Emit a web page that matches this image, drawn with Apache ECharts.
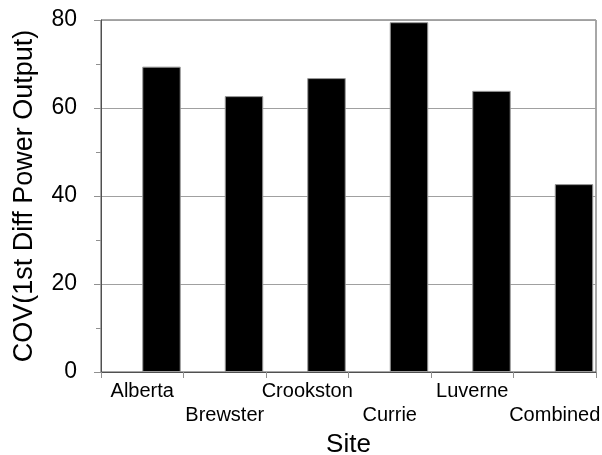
<!DOCTYPE html>
<html>
<head>
<meta charset="utf-8">
<script src="https://cdn.jsdelivr.net/npm/echarts@6/dist/echarts.min.js"></script>
<style>
  html, body { margin: 0; padding: 0; background: #fff; }
  #chart { width: 602px; height: 455px; }
</style>
</head>
<body>
<div id="chart"></div>
<script>
// data
const sites = ['Alberta', 'Brewster', 'Crookston', 'Currie', 'Luverne', 'Combined']
const cov = [69.4, 62.7, 66.8, 79.5, 63.9, 42.7]
const yTicks = [0, 20, 40, 60, 80]

const font = 'Liberation Sans, Arial, sans-serif'
const chart = echarts.init(document.getElementById('chart'))

const options = {
  animation: false,
  textStyle: { fontFamily: font },
  grid: {
    left: 101, top: 20, right: 6, bottom: 83,
    outerBoundsMode: 'none',
    containLabel: false,
    show: true, borderColor: '#505050', borderWidth: 1
  },
  xAxis: {
    type: 'category',
    data: sites,
    name: 'Site',
    nameLocation: 'middle',
    nameGap: 58,
    nameTextStyle: { fontSize: 26, color: '#000', fontFamily: font },
    axisLine: { lineStyle: { color: '#505050', width: 1 } },
    axisTick: { show: true, alignWithLabel: false, interval: 0, length: 6, lineStyle: { color: '#909090' } },
    axisLabel: {
      interval: 0,
      margin: 7,
      fontSize: 20,
      lineHeight: 24,
      color: '#000',
      fontFamily: font,
      formatter: (v, i) => (i % 2 ? '\n' + v : v)
    }
  },
  yAxis: {
    type: 'value',
    min: yTicks[0],
    max: yTicks[yTicks.length - 1],
    interval: 20,
    name: 'COV(1st Diff Power Output)',
    nameLocation: 'middle',
    nameGap: 63,
    nameTextStyle: { fontSize: 27, color: '#000', fontFamily: font },
    axisLine: { show: true, lineStyle: { color: '#505050', width: 1 } },
    axisTick: { show: true, length: 7, lineStyle: { color: '#909090' } },
    minorTick: { show: true, splitNumber: 2, length: 5, lineStyle: { color: '#909090' } },
    axisLabel: { fontSize: 23, margin: 24, color: '#000', fontFamily: font },
    splitLine: { lineStyle: { color: '#a0a0a0', width: 1 } }
  },
  series: [
    {
      // empty slot so the real bar sits in the right half of each category
      type: 'bar',
      data: sites.map(() => null),
      barGap: 0,
      barCategoryGap: '6.67%'
    },
    {
      type: 'bar',
      data: cov,
      barGap: 0,
      barCategoryGap: '6.67%',
      itemStyle: { color: '#000', borderColor: '#9a9a9a', borderWidth: 1 }
    }
  ]
}
chart.setOption(options)
</script>
</body>
</html>
